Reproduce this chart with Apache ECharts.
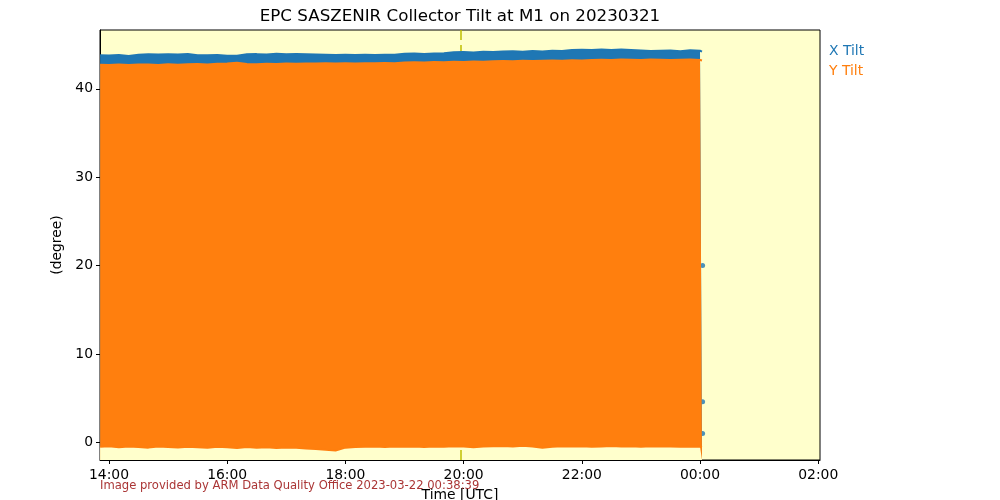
<!DOCTYPE html>
<html>
<head>
<meta charset="utf-8">
<script src="https://cdn.jsdelivr.net/npm/echarts@6/dist/echarts.min.js"></script>
<style>html,body{margin:0;padding:0;background:#fff}#c{width:1000px;height:500px}</style>
</head>
<body>
<div id="c"></div>
<script>
// Sample times (UTC) of the envelope readings
const times = ["13:51","14:00","14:10","14:20","14:30","14:40","14:50","15:00","15:10","15:20","15:30","15:40","15:50",
"16:00","16:10","16:20","16:30","16:40","16:50","17:00","17:10","17:20","17:30","17:40","17:50",
"18:00","18:10","18:20","18:30","18:40","18:50","19:00","19:10","19:20","19:30","19:40","19:50",
"20:00","20:10","20:20","20:30","20:40","20:50","21:00","21:10","21:20","21:30","21:40","21:50",
"22:00","22:10","22:20","22:30","22:40","22:50","23:00","23:10","23:20","23:30","23:40","23:50","00:00","00:02"];
// X Tilt upper envelope (degree)
const xTiltHigh = [43.80,43.77,43.83,43.71,43.86,43.91,43.88,43.93,43.89,43.94,43.81,43.79,43.83,
43.76,43.74,43.91,43.93,43.89,43.96,43.91,43.94,43.91,43.88,43.86,43.83,
43.86,43.83,43.86,43.84,43.87,43.85,43.96,43.99,43.95,44.01,44.03,44.13,
44.16,44.11,44.19,44.16,44.23,44.26,44.21,44.27,44.24,44.31,44.29,44.41,
44.43,44.39,44.46,44.41,44.44,44.39,44.33,44.29,44.31,44.33,44.26,44.36,44.31,44.21];
// Y Tilt upper envelope (degree)
const yTiltHigh = [42.73,42.71,42.76,42.69,42.75,42.77,42.71,42.79,42.74,42.78,42.81,42.77,42.83,
42.86,42.96,42.81,42.79,42.84,42.81,42.86,42.83,42.88,42.86,42.89,42.87,
42.91,42.88,42.91,42.89,42.93,42.91,42.99,43.01,42.98,43.03,43.01,43.06,
43.03,43.09,43.06,43.11,43.16,43.13,43.19,43.16,43.18,43.21,43.19,43.23,
43.21,43.26,43.29,43.27,43.31,43.29,43.27,43.31,43.28,43.26,43.29,43.31,43.27,43.21];
// Lower envelope of both tilts (degree)
const tiltLow = [-0.50,-0.45,-0.55,-0.48,-0.52,-0.60,-0.47,-0.53,-0.58,-0.50,-0.55,-0.62,-0.50,
-0.57,-0.63,-0.52,-0.60,-0.55,-0.65,-0.58,-0.62,-0.70,-0.75,-0.85,-0.92,
-0.60,-0.52,-0.50,-0.48,-0.52,-0.47,-0.50,-0.46,-0.52,-0.48,-0.50,-0.45,
-0.47,-0.55,-0.48,-0.45,-0.42,-0.46,-0.40,-0.48,-0.62,-0.50,-0.45,-0.48,
-0.44,-0.50,-0.46,-0.42,-0.48,-0.45,-0.50,-0.44,-0.48,-0.46,-0.50,-0.47,-0.50,-0.55];
// isolated X Tilt readings at the end of the record
const xTailTime = ["00:02","00:02","00:02"];
const xTailVals = [20.0, 4.6, 1.0];
const xTicks = [14,16,18,20,22,24,26];
const yTicks = [0,10,20,30,40];
const markerTime = "19:57";

function toHour(s){ const [h,m]=s.split(':').map(Number); let v=h+m/60; if(v<12) v+=24; return v; }
const tx = times.map(toHour);
const FONT = 'DejaVu Sans';
const FS = 13.9;
const BLUE = '#1f77b4', ORANGE = '#ff7f0e', BG = '#ffffcc';
const YMIN = -2.0, YMAX = 46.66;
const mx = toHour(markerTime);
const markStyle = { color:'#bfbf00', type:[10,5], width:1.5 };

const chart = echarts.init(document.getElementById('c'), null, {renderer:'canvas'});
chart.setOption({
  animation:false,
  backgroundColor:'#ffffff',
  grid:{ left:100, right:180, top:30, bottom:40, containLabel:false, outerBoundsMode:'none',
    show:true, backgroundColor:BG, borderColor:'#000', borderWidth:1 },
  legend:{
    orient:'vertical', left:819, top:39, itemWidth:0, itemHeight:0, itemGap:6, icon:'rect',
    selectedMode:false,
    textStyle:{ fontFamily:FONT, fontSize:FS },
    data:[ {name:'X Tilt', textStyle:{color:BLUE}}, {name:'Y Tilt', textStyle:{color:ORANGE}} ]
  },
  xAxis:{
    type:'value', min:13.848, max:26.03,
    name:'Time [UTC]', nameLocation:'middle', nameGap:28,
    nameTextStyle:{ fontFamily:FONT, fontSize:FS, color:'#000' },
    axisLine:{ show:true, onZero:false, lineStyle:{color:'#000'} },
    axisTick:{ show:true, length:4, customValues:xTicks, lineStyle:{color:'#000'} },
    axisLabel:{ customValues:xTicks, margin:8, fontFamily:FONT, fontSize:FS, color:'#000',
      formatter:v=>String(Math.round(v)%24).padStart(2,'0')+':00' },
    splitLine:{ show:false }
  },
  yAxis:{
    type:'value', min:YMIN, max:YMAX,
    name:'(degree)', nameLocation:'middle', nameGap:30, nameRotate:90,
    nameTextStyle:{ fontFamily:FONT, fontSize:FS, color:'#000' },
    axisLine:{ show:true, onZero:false, lineStyle:{color:'#000'} },
    axisTick:{ show:true, length:4, customValues:yTicks, lineStyle:{color:'#000'} },
    axisLabel:{ customValues:yTicks, margin:7, fontFamily:FONT, fontSize:FS, color:'#000' },
    splitLine:{ show:false }
  },
  series:[
    { name:'marker', type:'line', data:[], z:1, silent:true,
      markLine:{ z:1, silent:true, symbol:['none','none'], label:{show:false},
        lineStyle:markStyle, data:[ { xAxis: mx } ] } },
    { name:'X Tilt', type:'line', z:2, data: tx.map((t,i)=>[t, xTiltHigh[i]]), showSymbol:false,
      lineStyle:{ color:BLUE, width:2, join:'round' }, itemStyle:{color:BLUE},
      areaStyle:{ color:BLUE, opacity:1, origin:'start' } },
    { name:'X Tilt', type:'scatter', z:2, symbolSize:5, itemStyle:{color:BLUE},
      data: xTailTime.map((t,i)=>[toHour(t)+0.01, xTailVals[i]]) },
    { name:'Y Tilt', type:'line', z:3, data: tx.map((t,i)=>[t, yTiltHigh[i]]), showSymbol:false,
      lineStyle:{ color:ORANGE, width:2, join:'round' }, itemStyle:{color:ORANGE},
      areaStyle:{ color:ORANGE, opacity:1, origin:'start' } },
    { name:'lower', type:'line', z:4, data: tx.map((t,i)=>[t, tiltLow[i]]), showSymbol:false, silent:true,
      lineStyle:{ color:ORANGE, width:2, join:'round' },
      areaStyle:{ color:BG, opacity:1, origin:'start' },
      markLine:{ z:5, silent:true, symbol:['none','none'], label:{show:false},
        lineStyle:markStyle,
        data:[ [ {coord:[mx, YMIN]}, {coord:[mx, -0.62]} ] ] } }
  ],
  graphic:[
    { type:'text', x:460, y:17, z:10,
      style:{ text:'EPC SASZENIR Collector Tilt at M1 on 20230321', fontFamily:FONT, fontSize:16.7,
        fill:'#000', align:'center', verticalAlign:'middle' } },
    { type:'text', x:100, y:486, z:10,
      style:{ text:'Image provided by ARM Data Quality Office 2023-03-22 00:38:39', fontFamily:FONT, fontSize:11.6,
        fill:'#a52a2a', align:'left', verticalAlign:'middle', opacity:0.95 } }
  ]
});
</script>
</body>
</html>
